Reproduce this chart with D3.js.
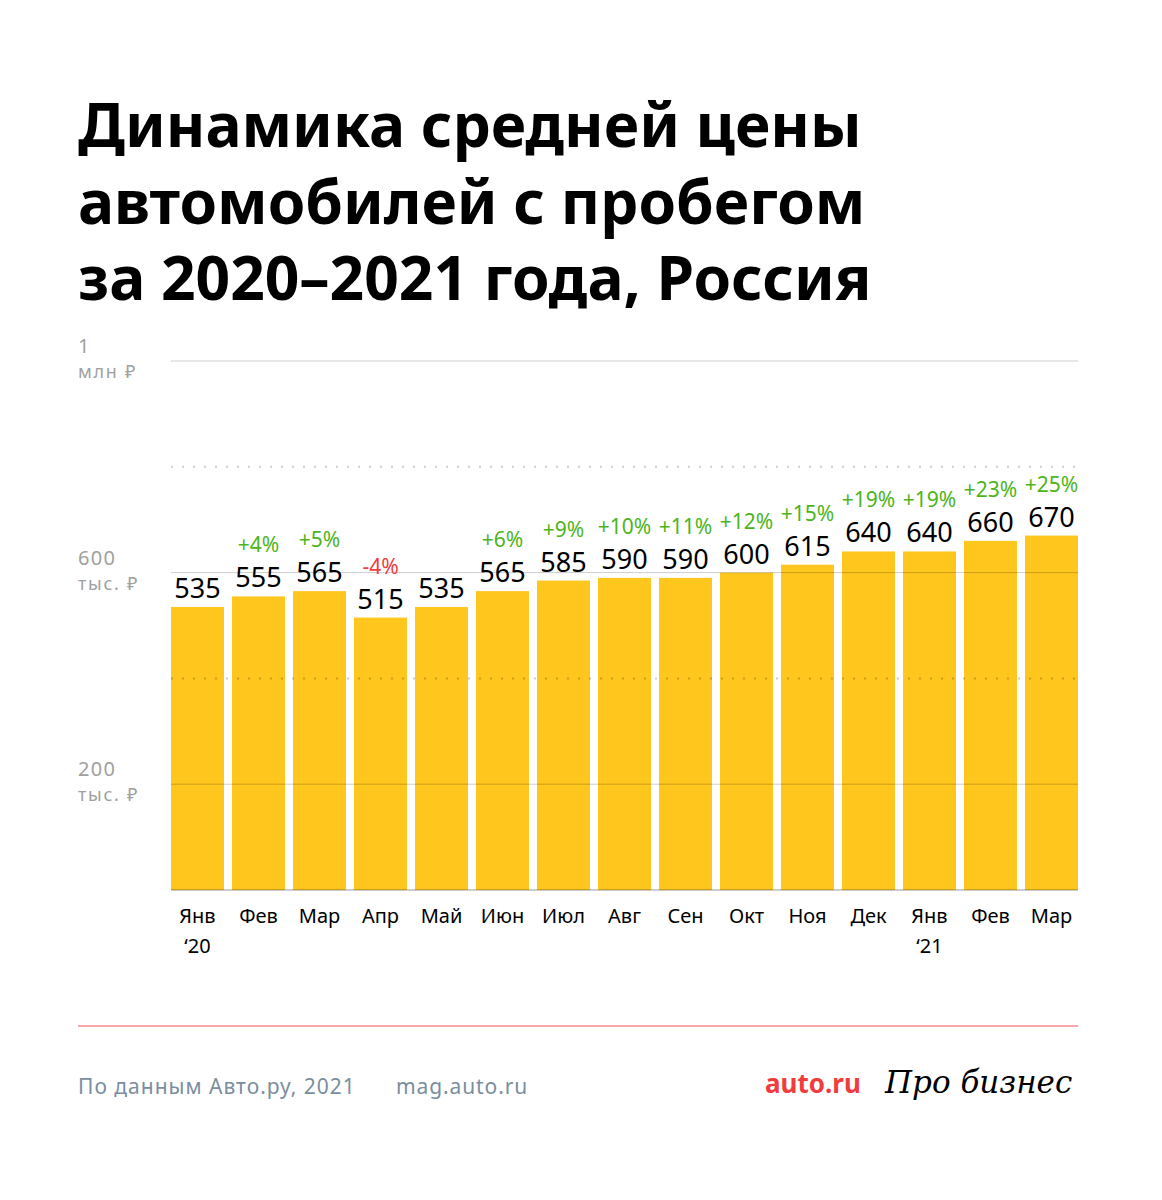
<!DOCTYPE html>
<html>
<head>
<meta charset="utf-8">
<script src="https://cdn.jsdelivr.net/npm/d3@7"></script>
<style>
  body { margin: 0; background: #fff; }
  svg text { font-family: "Noto Sans", "Open Sans", sans-serif; }
</style>
</head>
<body>
<svg id="chart" width="1162" height="1200"></svg>
<script>
// data
var months = ["Янв", "Фев", "Мар", "Апр", "Май", "Июн", "Июл", "Авг", "Сен", "Окт", "Ноя", "Дек", "Янв", "Фев", "Мар"];
var years = ["‘20", "", "", "", "", "", "", "", "", "", "", "", "‘21", "", ""];
var prices = [535, 555, 565, 515, 535, 565, 585, 590, 590, 600, 615, 640, 640, 660, 670];
var changes = [null, 4, 5, -4, null, 6, 9, 10, 11, 12, 15, 19, 19, 23, 25];
var gridValues = [200, 400, 600, 800, 1000];
var gridLabels = {200: ["200", "тыс. ₽"], 600: ["600", "тыс. ₽"], 1000: ["1", "млн ₽"]};
var titleLines = ["Динамика средней цены", "автомобилей с пробегом", "за 2020–2021 года, Россия"];

var svg = d3.select("#chart"),
    plotLeft = 171, plotRight = 1078, plotTop = 361, plotBottom = 890;

// title
svg.append("g").selectAll("text")
    .data(titleLines)
    .enter().append("text")
    .attr("x", 78)
    .attr("y", function (d, i) { return 147 + i * 76.5; })
    .attr("font-size", 60.5)
    .attr("font-weight", 700)
    .attr("fill", "#000")
    .text(function (d) { return d; });

var x = d3.scaleBand()
    .domain(d3.range(months.length))
    .range([plotLeft, plotRight])
    .paddingInner(8 / 61);

var y = d3.scaleLinear()
    .domain([0, 1000])
    .range([plotBottom, plotTop]);

var g = svg.append("g");

// bars
g.selectAll("rect.bar")
    .data(prices)
    .enter().append("rect")
    .attr("class", "bar")
    .attr("x", function (d, i) { return x(i); })
    .attr("y", function (d) { return y(d); })
    .attr("width", x.bandwidth())
    .attr("height", function (d) { return plotBottom - y(d); })
    .attr("fill", "#ffc61e");

// grid lines, drawn over the bars
g.selectAll("line.grid")
    .data(gridValues)
    .enter().append("line")
    .attr("x1", plotLeft)
    .attr("x2", plotRight)
    .attr("y1", function (d) { return y(d); })
    .attr("y2", function (d) { return y(d); })
    .attr("stroke", "rgba(0,0,0,0.2)")
    .attr("stroke-width", function (d) { return gridLabels[d] ? 1 : 2; })
    .attr("stroke-dasharray", function (d) { return gridLabels[d] ? null : "2,9"; });

// baseline
g.append("line")
    .attr("x1", plotLeft).attr("x2", plotRight)
    .attr("y1", plotBottom).attr("y2", plotBottom)
    .attr("stroke", "rgba(0,0,0,0.2)")
    .attr("stroke-width", 2);

// y labels
var yl = g.selectAll("g.ylab")
    .data(gridValues.filter(function (d) { return gridLabels[d]; }))
    .enter().append("g")
    .attr("transform", function (d) { return "translate(78," + y(d) + ")"; });
yl.append("text")
    .attr("y", -8)
    .attr("font-size", 20)
    .attr("letter-spacing", 1.3)
    .attr("fill", "#a0a0a0")
    .text(function (d) { return gridLabels[d][0]; });
yl.append("text")
    .attr("y", 17)
    .attr("font-size", 18)
    .attr("letter-spacing", 1.7)
    .attr("fill", "#a0a0a0")
    .text(function (d) { return gridLabels[d][1]; });

// value labels
g.selectAll("text.val")
    .data(prices)
    .enter().append("text")
    .attr("x", function (d, i) { return x(i) + x.bandwidth() / 2; })
    .attr("y", function (d) { return y(d) - 9; })
    .attr("text-anchor", "middle")
    .attr("font-size", 27)
    .attr("fill", "#000")
    .text(function (d) { return d; });

// change labels
changes.forEach(function (d, i) {
    if (d === null) return;
    g.append("text")
        .attr("x", x(i) + x.bandwidth() / 2)
        .attr("y", y(prices[i]) - 44)
        .attr("text-anchor", "middle")
        .attr("font-size", 21)
        .attr("fill", d < 0 ? "#f03c3c" : "#4db51b")
        .text((d > 0 ? "+" : "") + d + "%");
});

// month labels
g.selectAll("text.month")
    .data(months)
    .enter().append("text")
    .attr("x", function (d, i) { return x(i) + x.bandwidth() / 2; })
    .attr("y", 923)
    .attr("text-anchor", "middle")
    .attr("font-size", 20)
    .attr("fill", "#000")
    .text(function (d) { return d; });

g.selectAll("text.year")
    .data(years)
    .enter().append("text")
    .attr("x", function (d, i) { return x(i) + x.bandwidth() / 2; })
    .attr("y", 953)
    .attr("text-anchor", "middle")
    .attr("font-size", 20)
    .attr("fill", "#000")
    .text(function (d) { return d; });

// footer
svg.append("line")
    .attr("x1", 78).attr("x2", 1078)
    .attr("y1", 1026).attr("y2", 1026)
    .attr("stroke", "#f05050")
    .attr("stroke-width", 1);

svg.append("text")
    .attr("x", 78).attr("y", 1094)
    .attr("font-size", 21)
    .attr("letter-spacing", 1)
    .attr("fill", "#7a8ea0")
    .text("По данным Авто.ру, 2021");

svg.append("text")
    .attr("x", 396).attr("y", 1094)
    .attr("font-size", 21)
    .attr("letter-spacing", 0.9)
    .attr("fill", "#7a8ea0")
    .text("mag.auto.ru");

svg.append("text")
    .attr("x", 765).attr("y", 1093)
    .attr("font-size", 26)
    .attr("font-weight", 700)
    .attr("fill", "#f03c3c")
    .text("auto.ru");

svg.append("text")
    .attr("x", 885).attr("y", 1093)
    .attr("font-size", 31)
    .attr("font-style", "italic")
    .attr("fill", "#000")
    .style("font-family", "'DejaVu Serif', serif")
    .text("Про бизнес");
</script>
</body>
</html>
